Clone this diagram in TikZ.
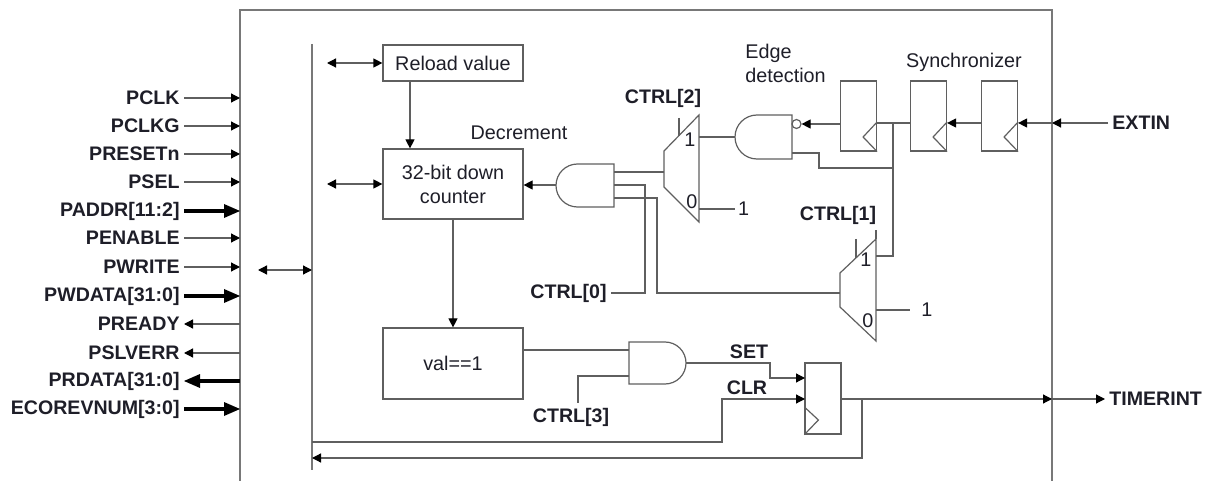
\documentclass[tikz,border=0pt]{standalone}
\usepackage{fontspec}
\setmainfont{Liberation Sans}
\usetikzlibrary{arrows.meta}
\definecolor{wiregray}{RGB}{95,95,95}
\definecolor{framegray}{RGB}{120,120,120}
\definecolor{inkblack}{RGB}{30,30,40}

\tikzset{
  >={Triangle[length=4.5pt,width=4.5pt,color=black]},
  bigtip/.tip={Triangle[length=8pt,width=7pt,line width=0pt,color=black]},
  wire/.style={draw=wiregray, line width=0.6pt},
  frame/.style={draw=framegray, line width=0.9pt},
  inthin/.style={wire, ->},
  outthin/.style={wire, <-},
  inbus/.style={draw=black, line width=2.2pt, -bigtip},
  outbus/.style={draw=black, line width=2.2pt, bigtip-},
  blk/.style={draw=wiregray, line width=0.6pt, minimum width=70pt, align=center, text=inkblack, font=\fontsize{9.9}{12}\selectfont},
  pin/.style={text=inkblack, inner sep=2pt, font=\bfseries\fontsize{9.8}{11}\selectfont},
  txt/.style={text=inkblack, inner sep=0pt, font=\fontsize{9.9}{12}\selectfont},
  ff/.style={draw=wiregray, line width=0.6pt, minimum width=18pt, minimum height=35pt, inner sep=0pt},
}

\begin{document}
\begin{tikzpicture}[x=0.5pt, y=-0.5pt]
\useasboundingbox (0,0) rectangle (1212,481);
\draw[frame] (240,481) -- (240,10) -- (1052,10) -- (1052,481);
\coordinate (bus-top) at (312,44);
\coordinate (bus-bot) at (312,470);
\draw[frame] (bus-top) -- (bus-bot);

\foreach \lab/\y/\kind in {PCLK/98/inthin, PCLKG/126/inthin, PRESETn/154/inthin, PSEL/182/inthin, PADDR[11:2]/211/inbus, PENABLE/238/inthin, PWRITE/267/inthin, PWDATA[31:0]/296/inbus, PREADY/324/outthin, PSLVERR/353/outthin, PRDATA[31:0]/381/outbus, ECOREVNUM[3:0]/409/inbus}{
  \node[pin, anchor=east] (pin-\y) at (184,\y) {\lab};
  \coordinate (edge-\y) at (240,\y);
  \draw[\kind] (pin-\y.east) -- (edge-\y);
}
\coordinate (ob-l) at (258,270);
\coordinate (ob-r) at (312,270);
\draw[wire, <->] (ob-l) -- (ob-r);

\node[blk, minimum height=18pt] (reload) at (453,63) {Reload value};
\node[blk, minimum height=35pt] (counter) at (453,184) {32-bit down\\counter};
\node[blk, minimum height=35.5pt] (val) at (453,363.5) {val==1};
\coordinate (tap-l) at (327,0);
\draw[wire, <->] (tap-l |- reload.west) -- (reload.west);
\draw[wire, <->] (tap-l |- counter.west) -- (counter.west);
\draw[wire, ->] ([xshift=-21.5pt]reload.south) -- ([xshift=-21.5pt]counter.north);
\draw[wire, ->] (counter.south) -- (val.north);

\draw[wire] (614,164) -- (577.5,164) arc[start angle=90, end angle=270, radius=10.75pt] -- (614,207) -- cycle;
\coordinate (dec-out) at (556,185);
\coordinate (dec-in1) at (614,172);
\coordinate (dec-in2) at (614,185);
\coordinate (dec-in3) at (614,198);
\node[txt] (decr) at (519,133) {Decrement};
\draw[wire, ->] (dec-out) -- (counter.east |- dec-out);

\draw[wire] (664,151) -- (699,115) -- (699,222) -- (664,187) -- cycle;
\coordinate (m1-out) at (664,172);
\coordinate (m1-in1) at (699,137);
\coordinate (m1-in0) at (699,209);
\coordinate (m1-sel) at (679,118);
\draw[wire] (m1-sel) -- ++(0,18);
\node[pin] (ctrl2) at (663,98) {CTRL[2]};
\node[txt] (m1-one) at (690,140) {1};
\node[txt] (m1-zero) at (692,202) {0};
\node[txt, anchor=west, inner xsep=1.3pt] (one-a) at (735,209) {1};
\draw[wire] (m1-in0) -- (one-a.west);
\draw[wire] (m1-out) -- (dec-in1);

\draw[wire] (792,115) -- (757,115) arc[start angle=90, end angle=270, radius=11pt] -- (792,159) -- cycle;
\node[circle, draw=wiregray, line width=0.6pt, minimum size=4.5pt, inner sep=0pt] (bub) at (796.5,124) {};
\coordinate (eg-out) at (735,137);
\coordinate (eg-in2) at (792,153);
\draw[wire] (eg-out) -- (m1-in1);
\node[txt, align=left, anchor=west] (edge-lbl) at (745,63) {Edge\\detection};
\node[txt] (sync-lbl) at (964,62) {Synchronizer};

\node[ff] (ff1) at (858.5,116) {};
\node[ff] (ff2) at (928.5,116) {};
\node[ff] (ff3) at (999.5,116) {};
\foreach \f in {ff1,ff2,ff3}
  \draw[wire] ([yshift=-3pt]\f.east) -- ([xshift=-7pt,yshift=-10.5pt]\f.east) -- (\f.south east);
\coordinate (xin) at (1052,123);
\node[pin, anchor=west] (extin) at (1108,123) {EXTIN};
\draw[wire, ->] (extin.west) -- (xin);
\draw[wire, ->] (xin) -- (ff3.east |- xin);
\draw[wire, ->] (ff3.west |- xin) -- (ff2.east |- xin);
\draw[wire] (ff2.west |- xin) -- (ff1.east |- xin);
\draw[wire, ->] (ff1.west |- bub) -- (bub.east);
\coordinate (tap) at (893,123);
\coordinate (m2-in1) at (876,256);
\draw[wire] (tap) |- (m2-in1);
\draw[wire] (eg-in2) -- ++(13.5pt,0) |- ([yshift=-22.5pt]tap);

\draw[wire] (840,273) -- (876,239) -- (876,341) -- (840,307) -- cycle;
\draw[wire] (876,239) -- (876,230);
\coordinate (m2-out) at (840,293);
\coordinate (m2-in0) at (876,310);
\coordinate (m2-sel) at (856,239);
\draw[wire] (m2-sel) -- ++(0,19);
\node[pin] (ctrl1) at (838,215) {CTRL[1]};
\node[txt] (m2-one) at (866,260) {1};
\node[txt] (m2-zero) at (868,321) {0};
\node[txt, anchor=west, inner xsep=5.5pt] (one-b) at (910,310) {1};
\draw[wire] (m2-in0) -- (one-b.west);
\node[pin, anchor=east] (ctrl0) at (611,293) {CTRL[0]};
\draw[wire] (dec-in2) -- ++(15.5pt,0) |- (ctrl0.east);
\draw[wire] (dec-in3) -- ++(21.5pt,0) |- (m2-out);

\draw[wire] (629,342) -- (665,342) arc[start angle=90, end angle=-90, radius=10.5pt] -- (629,384) -- cycle;
\coordinate (sg-in1) at (629,350);
\coordinate (sg-in2) at (629,376);
\coordinate (sg-out) at (686,363);
\draw[wire] (val.east |- sg-in1) -- (sg-in1);
\node[pin] (ctrl3) at (571,417) {CTRL[3]};
\draw[wire] (sg-in2) -| ([xshift=3.5pt]ctrl3.north);
\node[ff, minimum height=35.5pt] (ff4) at (823,398.5) {};
\draw[wire] ([yshift=-4.25pt]ff4.west) -- ([xshift=7pt,yshift=-10.75pt]ff4.west) -- (ff4.south west);
\coordinate (ff4-s) at (805,378);
\coordinate (ff4-r) at (805,399);
\node[pin] (set-lbl) at (749,352) {SET};
\node[pin] (clr-lbl) at (747,388) {CLR};
\draw[wire, ->] (sg-out) -- ++(42pt,0) |- (ff4-s);
\coordinate (clr-src) at (312,442);
\draw[wire, ->] (clr-src) -| ([xshift=-41.5pt]ff4-r) -- (ff4-r);
\coordinate (xout) at (1052,399);
\coordinate (fb) at (862,399);
\coordinate (fb-end) at (312,458);
\node[pin, anchor=west] (timerint) at (1105,399) {TIMERINT};
\draw[wire, ->] (ff4.east |- ff4-r) -- (xout);
\draw[wire, ->] (xout) -- (timerint.west);
\draw[wire, ->] (fb) |- (fb-end);
\end{tikzpicture}
\end{document}
